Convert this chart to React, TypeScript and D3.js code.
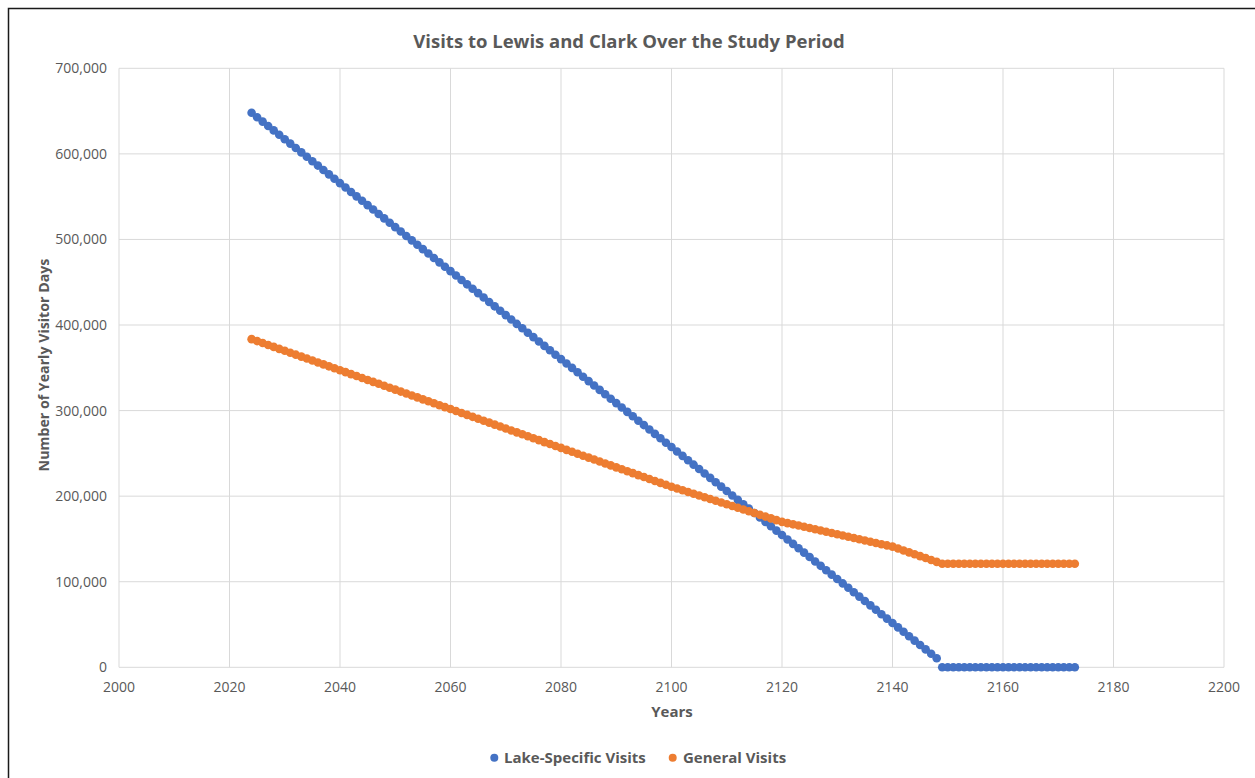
import React from "react";
import * as d3 from "d3";

// Visits to Lewis and Clark, one marker per year
const FIRST_YEAR = 2024;
const LAST_YEAR = 2173;

const lakeSpecificVisits: number[] = [
  648000, 642860, 637720, 632580, 627440, 622300, 617160, 612020, 606880, 601740,
  596600, 591460, 586320, 581180, 576040, 570900, 565760, 560620, 555480, 550340,
  545200, 540060, 534920, 529780, 524640, 519500, 514360, 509220, 504080, 498940,
  493800, 488660, 483520, 478380, 473240, 468100, 462960, 457820, 452680, 447540,
  442400, 437260, 432120, 426980, 421840, 416700, 411560, 406420, 401280, 396140,
  391000, 385860, 380720, 375580, 370440, 365300, 360160, 355020, 349880, 344740,
  339600, 334460, 329320, 324180, 319040, 313900, 308760, 303620, 298480, 293340,
  288200, 283060, 277920, 272780, 267640, 262500, 257360, 252220, 247080, 241940,
  236800, 231660, 226520, 221380, 216240, 211100, 205960, 200820, 195680, 190540,
  185400, 180260, 175120, 169980, 164840, 159700, 154560, 149420, 144280, 139140,
  134000, 128860, 123720, 118580, 113440, 108300, 103160, 98020, 92880, 87740,
  82600, 77460, 72320, 67180, 62040, 56900, 51760, 46620, 41480, 36340,
  31200, 26060, 20920, 15780, 10640, 0, 0, 0, 0, 0,
  0, 0, 0, 0, 0, 0, 0, 0, 0, 0,
  0, 0, 0, 0, 0, 0, 0, 0, 0, 0,
];

const generalVisits: number[] = [
  383500, 381230, 378960, 376690, 374420, 372150, 369880, 367610, 365340, 363070,
  360800, 358530, 356260, 353990, 351720, 349450, 347180, 344910, 342640, 340370,
  338100, 335830, 333560, 331290, 329020, 326750, 324480, 322210, 319940, 317670,
  315400, 313130, 310860, 308590, 306320, 304050, 301780, 299510, 297240, 294970,
  292700, 290430, 288160, 285890, 283620, 281350, 279080, 276810, 274540, 272270,
  270000, 267730, 265460, 263190, 260920, 258650, 256380, 254110, 251840, 249570,
  247300, 245030, 242760, 240490, 238220, 235950, 233680, 231410, 229140, 226870,
  224600, 222330, 220060, 217790, 215520, 213250, 210980, 208930, 206880, 204830,
  202780, 200730, 198680, 196630, 194580, 192530, 190480, 188430, 186380, 184330,
  182280, 180230, 178180, 176130, 174080, 172030, 169980, 168530, 167080, 165630,
  164180, 162730, 161280, 159830, 158380, 156930, 155480, 154030, 152580, 151130,
  149680, 148230, 146780, 145330, 143880, 142430, 140980, 138760, 136540, 134320,
  132100, 129880, 127660, 125440, 123220, 121000, 121000, 121000, 121000, 121000,
  121000, 121000, 121000, 121000, 121000, 121000, 121000, 121000, 121000, 121000,
  121000, 121000, 121000, 121000, 121000, 121000, 121000, 121000, 121000, 121000,
];

const years: number[] = d3.range(FIRST_YEAR, LAST_YEAR + 1);

const xTicks: number[] = [2000, 2020, 2040, 2060, 2080, 2100, 2120, 2140, 2160, 2180, 2200];
const yTicks: number[] = [0, 100000, 200000, 300000, 400000, 500000, 600000, 700000];

const seriesList = [
  { name: "Lake-Specific Visits", values: lakeSpecificVisits, color: "#4472C4" },
  { name: "General Visits", values: generalVisits, color: "#ED7D31" },
];

const W = 1255;
const H = 778;
const plot = { left: 119, right: 1224, top: 68.3, bottom: 667.3 };
const FONT = "'Open Sans', 'DejaVu Sans', sans-serif";
const TEXT = "#595959";
const GRID = "#D9D9D9";

export default function App() {
  const x = d3.scaleLinear().domain([2000, 2200]).range([plot.left, plot.right]);
  const y = d3.scaleLinear().domain([0, 700000]).range([plot.bottom, plot.top]);
  const fmt = d3.format(",");

  return (
    <svg
      width={W}
      height={H}
      style={{ position: "absolute", left: 0, top: 0, background: "#fff" }}
      fontFamily={FONT}
    >
      <rect x={0} y={0} width={W} height={H} fill="#fff" />
      <rect x={8.5} y={8.5} width={W + 20} height={H + 20} fill="none" stroke="#1a1a1a" strokeWidth={1.5} />

      {/* gridlines */}
      {yTicks.map((t) => (
        <line key={"gy" + t} x1={plot.left} x2={plot.right} y1={y(t)} y2={y(t)} stroke={GRID} strokeWidth={1} />
      ))}
      {xTicks.map((t) => (
        <line key={"gx" + t} x1={x(t)} x2={x(t)} y1={plot.top} y2={plot.bottom} stroke={GRID} strokeWidth={1} />
      ))}

      {/* tick labels */}
      {yTicks.map((t) => (
        <text key={"ly" + t} x={107} y={y(t) + 5} textAnchor="end" fontSize={14} fill={TEXT}>
          {fmt(t)}
        </text>
      ))}
      {xTicks.map((t) => (
        <text key={"lx" + t} x={x(t)} y={692} textAnchor="middle" fontSize={14} fill={TEXT}>
          {t}
        </text>
      ))}

      {/* markers */}
      {seriesList.map((s) => (
        <g key={s.name} fill={s.color}>
          {s.values.map((v, i) => (
            <circle key={i} cx={x(years[i])} cy={y(v)} r={4.3} />
          ))}
        </g>
      ))}

      {/* titles */}
      <text x={629} y={48} textAnchor="middle" fontSize={18.5} fontWeight="bold" fill={TEXT}>
        Visits to Lewis and Clark Over the Study Period
      </text>
      <text x={672} y={717} textAnchor="middle" fontSize={15} fontWeight="bold" fill={TEXT}>
        Years
      </text>
      <text
        transform={`translate(49,365) rotate(-90)`}
        textAnchor="middle"
        fontSize={14.2}
        fontWeight="bold"
        fill={TEXT}
      >
        Number of Yearly Visitor Days
      </text>

      {/* legend */}
      <g>
        <circle cx={494.3} cy={757.7} r={4} fill={seriesList[0].color} />
        <text x={504} y={763} fontSize={15} fontWeight="bold" fill={TEXT}>
          {seriesList[0].name}
        </text>
        <circle cx={672.7} cy={757.7} r={4} fill={seriesList[1].color} />
        <text x={683} y={763} fontSize={15} fontWeight="bold" fill={TEXT}>
          {seriesList[1].name}
        </text>
      </g>
    </svg>
  );
}
